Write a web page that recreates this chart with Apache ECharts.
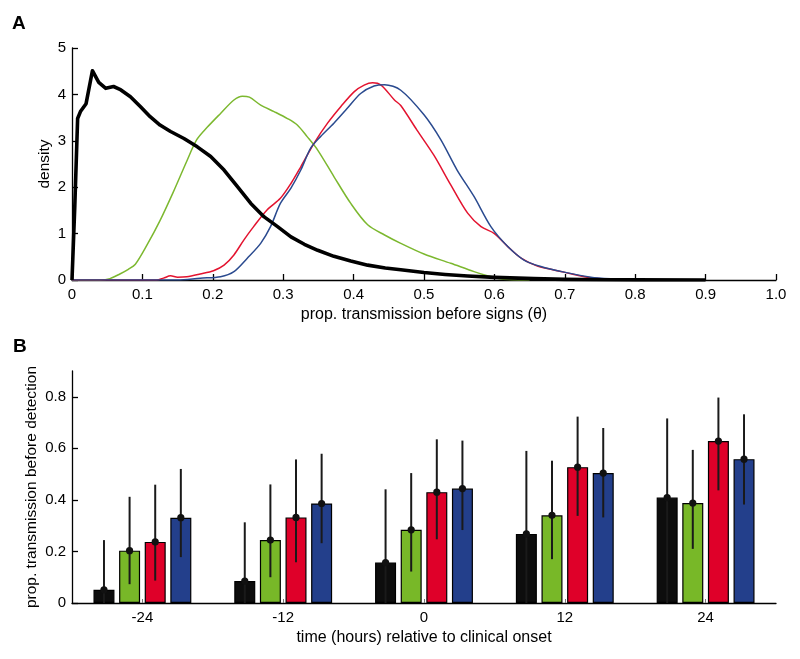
<!DOCTYPE html>
<html>
<head>
<meta charset="utf-8">
<script src="https://cdn.jsdelivr.net/npm/echarts@6.0.0/dist/echarts.min.js"></script>
<style>
html,body{margin:0;padding:0;background:#fff;}
#chart{width:800px;height:659px;}
</style>
</head>
<body>
<div id="chart"></div>
<script>
// ---------- Panel A: posterior densities of theta ----------
const densityBlack = [[0,0],[0.004,1.6],[0.008,3.48],[0.012,3.63],[0.02,3.8],[0.029,4.51],[0.038,4.26],[0.048,4.13],[0.059,4.17],[0.068,4.11],[0.083,3.95],[0.097,3.74],[0.111,3.52],[0.125,3.34],[0.14,3.2],[0.159,3.05],[0.178,2.87],[0.197,2.66],[0.216,2.37],[0.235,2.01],[0.254,1.65],[0.273,1.36],[0.292,1.15],[0.311,0.93],[0.33,0.77],[0.349,0.64],[0.372,0.51],[0.396,0.41],[0.42,0.32],[0.445,0.26],[0.467,0.22],[0.5,0.16],[0.53,0.12],[0.562,0.086],[0.6,0.057],[0.656,0.03],[0.7,0.014],[0.75,0.006],[0.8,0.002],[0.9,0]];
const densityGreen = [[0,0],[0.04,0],[0.054,0.03],[0.068,0.13],[0.08,0.23],[0.09,0.34],[0.106,0.74],[0.125,1.28],[0.144,1.9],[0.163,2.56],[0.177,3.02],[0.192,3.29],[0.211,3.59],[0.23,3.88],[0.242,3.96],[0.252,3.94],[0.268,3.77],[0.287,3.63],[0.306,3.48],[0.32,3.34],[0.334,3.09],[0.349,2.8],[0.372,2.23],[0.396,1.65],[0.42,1.19],[0.444,0.97],[0.467,0.79],[0.5,0.56],[0.538,0.36],[0.571,0.18],[0.59,0.09],[0.604,0.04],[0.62,0.01],[0.65,0]];
const densityRed = [[0,0],[0.12,0],[0.13,0.04],[0.14,0.09],[0.15,0.06],[0.163,0.07],[0.182,0.13],[0.201,0.2],[0.216,0.32],[0.23,0.54],[0.244,0.86],[0.258,1.15],[0.277,1.51],[0.296,1.76],[0.311,2.08],[0.325,2.44],[0.344,2.95],[0.363,3.38],[0.382,3.74],[0.401,4.06],[0.415,4.2],[0.427,4.25],[0.439,4.2],[0.458,3.88],[0.467,3.76],[0.49,3.23],[0.514,2.69],[0.538,2.05],[0.562,1.44],[0.581,1.15],[0.6,1.0],[0.619,0.72],[0.638,0.47],[0.661,0.3],[0.699,0.17],[0.732,0.06],[0.76,0.02],[0.8,0]];
const densityBlue = [[0,0],[0.15,0],[0.182,0.04],[0.211,0.07],[0.23,0.18],[0.249,0.47],[0.268,0.79],[0.282,1.15],[0.296,1.65],[0.311,1.98],[0.325,2.37],[0.339,2.84],[0.353,3.09],[0.372,3.38],[0.391,3.7],[0.41,4.02],[0.429,4.18],[0.444,4.21],[0.467,4.09],[0.5,3.56],[0.524,3.02],[0.547,2.37],[0.571,1.8],[0.595,1.15],[0.619,0.72],[0.642,0.43],[0.666,0.29],[0.699,0.17],[0.737,0.06],[0.77,0.02],[0.8,0]];

// ---------- Panel B: proportion transmission before detection ----------
const categories = ['-24','-12','0','12','24'];
const barBlack = [0.051,0.085,0.157,0.268,0.409];
const barGreen = [0.203,0.244,0.284,0.340,0.388];
const barRed   = [0.237,0.332,0.430,0.527,0.628];
const barBlue  = [0.331,0.386,0.444,0.504,0.558];
const lowBlack = [0,0,0,0,0];
const highBlack = [0.244,0.313,0.441,0.590,0.716];
const lowGreen = [0.073,0.100,0.122,0.170,0.210];
const highGreen = [0.412,0.460,0.504,0.552,0.594];
const lowRed = [0.087,0.158,0.247,0.338,0.437];
const highRed = [0.459,0.557,0.635,0.723,0.797];
const lowBlue = [0.178,0.232,0.283,0.332,0.382];
const highBlue = [0.520,0.579,0.630,0.679,0.732];

const FONT = 'Liberation Sans, Arial, Helvetica, sans-serif';
const COL = {black:'#0d0d0d', green:'#78b828', red:'#df0029', blue:'#233f8b'};
const LINECOL = {green:'#7cb82f', red:'#e3132f', blue:'#2a4a8f'};
const BAR_W = 21, BAR_GAP = 0.22;
const BAR_STEP = BAR_W * (1 + BAR_GAP);

const barSets = [
  {name:'black', v:barBlack, lo:lowBlack, hi:highBlack},
  {name:'green', v:barGreen, lo:lowGreen, hi:highGreen},
  {name:'red', v:barRed, lo:lowRed, hi:highRed},
  {name:'blue', v:barBlue, lo:lowBlue, hi:highBlue}
];
const errData = [];
barSets.forEach((s, si) => {
  s.v.forEach((v, ci) => errData.push([ci, v, s.lo[ci], s.hi[ci], si]));
});

const axisLineStyle = {color:'#000', width:1.3};
const labelStyle = {color:'#000', fontSize:15, fontFamily:FONT};
const xNameStyle = {color:'#000', fontSize:16, fontFamily:FONT};
const yNameStyle = {color:'#000', fontSize:15.5, fontFamily:FONT};

const chart = echarts.init(document.getElementById('chart'), null, {renderer:'canvas'});
const option = {
  animation:false,
  backgroundColor:'#fff',
  graphic:[
    {type:'text', left:12, top:14, style:{text:'A', fontSize:19, fontWeight:'bold', fontFamily:FONT, fill:'#000'}},
    {type:'text', left:13, top:337, style:{text:'B', fontSize:19, fontWeight:'bold', fontFamily:FONT, fill:'#000'}}
  ],
  grid:[
    {left:72, top:48, width:704, height:232},
    {left:72, top:371, width:704, height:232}
  ],
  xAxis:[
    {gridIndex:0, type:'value', min:0, max:1, interval:0.1,
     name:'prop. transmission before signs (\u03b8)', nameLocation:'middle', nameGap:27, nameTextStyle:xNameStyle,
     axisLine:{show:true, lineStyle:axisLineStyle},
     axisTick:{show:true, inside:true, length:6, lineStyle:{color:'#000', width:1.3}},
     axisLabel:Object.assign({margin:7, formatter:v => v===0 ? '0' : v.toFixed(1)}, labelStyle),
     splitLine:{show:false}},
    {gridIndex:1, type:'category', data:categories, boundaryGap:true,
     name:'time (hours) relative to clinical onset', nameLocation:'middle', nameGap:27, nameTextStyle:xNameStyle,
     axisLine:{show:true, lineStyle:axisLineStyle},
     axisTick:{show:true, inside:true, alignWithLabel:true, length:4, lineStyle:{color:'#777', width:1}},
     axisLabel:Object.assign({margin:7}, labelStyle),
     splitLine:{show:false}}
  ],
  yAxis:[
    {gridIndex:0, type:'value', min:0, max:5, interval:1,
     name:'density', nameLocation:'middle', nameGap:19, nameMoveOverlap:false, nameTextStyle:yNameStyle,
     axisLine:{show:true, lineStyle:axisLineStyle},
     axisTick:{show:true, inside:true, length:6, lineStyle:{color:'#000', width:1.3}},
     axisLabel:Object.assign({margin:6}, labelStyle),
     splitLine:{show:false}},
    {gridIndex:1, type:'value', min:0, max:0.9,
     name:'prop. transmission before detection', nameLocation:'middle', nameGap:32, nameMoveOverlap:false, nameTextStyle:yNameStyle,
     axisLine:{show:true, lineStyle:axisLineStyle},
     axisTick:{show:true, inside:true, length:6, customValues:[0,0.2,0.4,0.6,0.8], lineStyle:{color:'#000', width:1.3}},
     axisLabel:Object.assign({margin:6, customValues:[0,0.2,0.4,0.6,0.8], formatter:v => v===0 ? '0' : v.toFixed(1)}, labelStyle),
     splitLine:{show:false}}
  ],
  series:[
    {type:'line', xAxisIndex:0, yAxisIndex:0, data:densityGreen, showSymbol:false, smooth:0.3, lineStyle:{color:LINECOL.green, width:1.5}, z:3},
    {type:'line', xAxisIndex:0, yAxisIndex:0, data:densityRed, showSymbol:false, smooth:0.3, lineStyle:{color:LINECOL.red, width:1.5}, z:3},
    {type:'line', xAxisIndex:0, yAxisIndex:0, data:densityBlue, showSymbol:false, smooth:0.3, lineStyle:{color:LINECOL.blue, width:1.5}, z:4},
    {type:'line', xAxisIndex:0, yAxisIndex:0, data:densityBlack, showSymbol:false, smooth:false, lineStyle:{color:'#000', width:3.6, join:'round'}, z:5},
    {type:'bar', xAxisIndex:1, yAxisIndex:1, data:barBlack, barWidth:BAR_W, barGap:(BAR_GAP*100)+'%', itemStyle:{color:COL.black, borderColor:'#000', borderWidth:1.2}},
    {type:'bar', xAxisIndex:1, yAxisIndex:1, data:barGreen, barWidth:BAR_W, barGap:(BAR_GAP*100)+'%', itemStyle:{color:COL.green, borderColor:'#000', borderWidth:1.2}},
    {type:'bar', xAxisIndex:1, yAxisIndex:1, data:barRed, barWidth:BAR_W, barGap:(BAR_GAP*100)+'%', itemStyle:{color:COL.red, borderColor:'#000', borderWidth:1.2}},
    {type:'bar', xAxisIndex:1, yAxisIndex:1, data:barBlue, barWidth:BAR_W, barGap:(BAR_GAP*100)+'%', itemStyle:{color:COL.blue, borderColor:'#000', borderWidth:1.2}},
    {type:'custom', xAxisIndex:1, yAxisIndex:1, data:errData, z:10,
     encode:{x:0, y:1},
     renderItem:function(params, api){
       const ci = api.value(0), v = api.value(1), lo = api.value(2), hi = api.value(3), si = api.value(4);
       const off = (si - 1.5) * BAR_STEP;
       const pv = api.coord([ci, v]);
       const pl = api.coord([ci, lo]);
       const ph = api.coord([ci, hi]);
       const x = pv[0] + off;
       return {type:'group', children:[
         {type:'line', shape:{x1:x, y1:ph[1], x2:x, y2:pl[1]}, style:{stroke:'#1a1a1a', lineWidth:2}},
         {type:'circle', shape:{cx:x, cy:pv[1], r:3.6}, style:{fill:'#111'}}
       ]};
     }}
  ]
};
chart.setOption(option);
</script>
</body>
</html>
